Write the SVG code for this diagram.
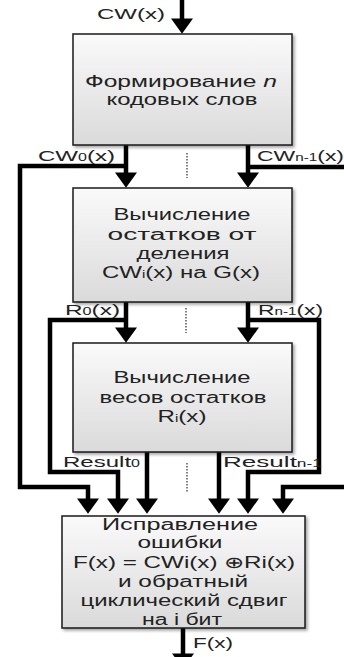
<svg xmlns="http://www.w3.org/2000/svg" width="344" height="657" viewBox="0 0 344 657">
<style>
.box{fill:url(#g);stroke:#1a1a1a;stroke-width:1.5;filter:url(#sh)}
.t{font-family:"Liberation Sans",Arial,sans-serif;font-size:16px;fill:#222;text-anchor:middle}
.l{font-family:"Liberation Sans",Arial,sans-serif;font-size:15px;fill:#222}
.s{font-size:10px}
.w{fill:none;stroke:#000;stroke-width:4.5;marker-end:url(#ah)}
.d{fill:none;stroke:#555;stroke-width:1.5;stroke-dasharray:1.5 1.5}
</style>
<defs>
<linearGradient id="g" x1="0" y1="0" x2="0" y2="1">
<stop offset="0" stop-color="#fafafa"/>
<stop offset="1" stop-color="#dadada"/>
</linearGradient>
<filter id="sh" x="-10%" y="-10%" width="125%" height="125%">
<feDropShadow dx="2" dy="2" stdDeviation="1.5" flood-color="#000" flood-opacity="0.35"/>
</filter>
<marker id="ah" markerUnits="userSpaceOnUse" markerWidth="16" markerHeight="22" viewBox="0 0 14 20" refX="6" refY="10" orient="auto">
<path d="M0,0 L14,10 L0,20 z" fill="#000"/>
</marker>
</defs>
<rect width="344" height="657" fill="#fff"/>
<g id="connectors">
<path class="w" d="M182,0 V25"/>
<path class="w" d="M126,145 V179"/>
<path class="w" d="M248,145 V179"/>
<path class="w" d="M126,166 H20 V487 H88 V505"/>
<path class="w" d="M248,167 H347 V487 H283 V505"/>
<path class="w" d="M126,302 V334"/>
<path class="w" d="M248,302 V334"/>
<path class="w" d="M126,320 H50 V472 H118 V505"/>
<path class="w" d="M248,320 H319 V472 H248 V505"/>
<path class="w" d="M147,452 V505"/>
<path class="w" d="M219,452 V505"/>
<path class="w" d="M183,628 V660"/>
<path class="d" d="M187,153 V178"/>
<path class="d" d="M186,308 V333"/>
<path class="d" d="M187,463 V493"/>
<text class="l" x="97" y="19" textLength="68" lengthAdjust="spacingAndGlyphs">CW(x)</text>
<text class="l" x="38" y="161" textLength="77" lengthAdjust="spacingAndGlyphs">CW<tspan class="s">0</tspan>(x)</text>
<text class="l" x="257" y="161" textLength="87" lengthAdjust="spacingAndGlyphs">CW<tspan class="s">n-1</tspan>(x)</text>
<text class="l" x="65" y="315" textLength="55" lengthAdjust="spacingAndGlyphs">R<tspan class="s">0</tspan>(x)</text>
<text class="l" x="258" y="315" textLength="65" lengthAdjust="spacingAndGlyphs">R<tspan class="s">n-1</tspan>(x)</text>
<text class="l" x="63" y="467" textLength="77" lengthAdjust="spacingAndGlyphs">Result<tspan class="s">0</tspan></text>
<text class="l" x="223" y="467" textLength="99" lengthAdjust="spacingAndGlyphs">Result<tspan class="s">n-1</tspan></text>
<text class="l" x="193" y="648" textLength="40" lengthAdjust="spacingAndGlyphs">F(x)</text>
</g>
<g id="node1">
<rect class="box" x="73" y="34" width="219" height="111"/>
<text class="t" x="181" y="87" textLength="192" lengthAdjust="spacingAndGlyphs">Формирование <tspan font-style="italic">n</tspan></text>
<text class="t" x="182" y="105" textLength="151" lengthAdjust="spacingAndGlyphs">кодовых слов</text>
</g>
<g id="node2">
<rect class="box" x="73" y="188" width="219" height="114"/>
<text class="t" x="182" y="220" textLength="137" lengthAdjust="spacingAndGlyphs">Вычисление</text>
<text class="t" x="182" y="240" textLength="149" lengthAdjust="spacingAndGlyphs">остатков от</text>
<text class="t" x="183" y="259" textLength="93" lengthAdjust="spacingAndGlyphs">деления</text>
<text class="t" x="181" y="278" textLength="158" lengthAdjust="spacingAndGlyphs">CW<tspan class="s">i</tspan>(x) на G(x)</text>
</g>
<g id="node3">
<rect class="box" x="73" y="343" width="219" height="109"/>
<text class="t" x="182" y="383" textLength="137" lengthAdjust="spacingAndGlyphs">Вычисление</text>
<text class="t" x="183" y="403" textLength="167" lengthAdjust="spacingAndGlyphs">весов остатков</text>
<text class="t" x="182" y="422" textLength="49" lengthAdjust="spacingAndGlyphs">R<tspan class="s">i</tspan>(x)</text>
</g>
<g id="node4">
<rect class="box" x="62" y="516" width="243" height="112"/>
<text class="t" x="180" y="530" textLength="156" lengthAdjust="spacingAndGlyphs">Исправление</text>
<text class="t" x="180" y="548" textLength="85" lengthAdjust="spacingAndGlyphs">ошибки</text>
<text class="t" x="184" y="568" textLength="222" lengthAdjust="spacingAndGlyphs">F(x) = CWi(x) ⊕Ri(x)</text>
<text class="t" x="183" y="587" textLength="130" lengthAdjust="spacingAndGlyphs">и обратный</text>
<text class="t" x="184" y="606" textLength="207" lengthAdjust="spacingAndGlyphs">циклический сдвиг</text>
<text class="t" x="182" y="625" textLength="80" lengthAdjust="spacingAndGlyphs">на i бит</text>
</g>
</svg>
